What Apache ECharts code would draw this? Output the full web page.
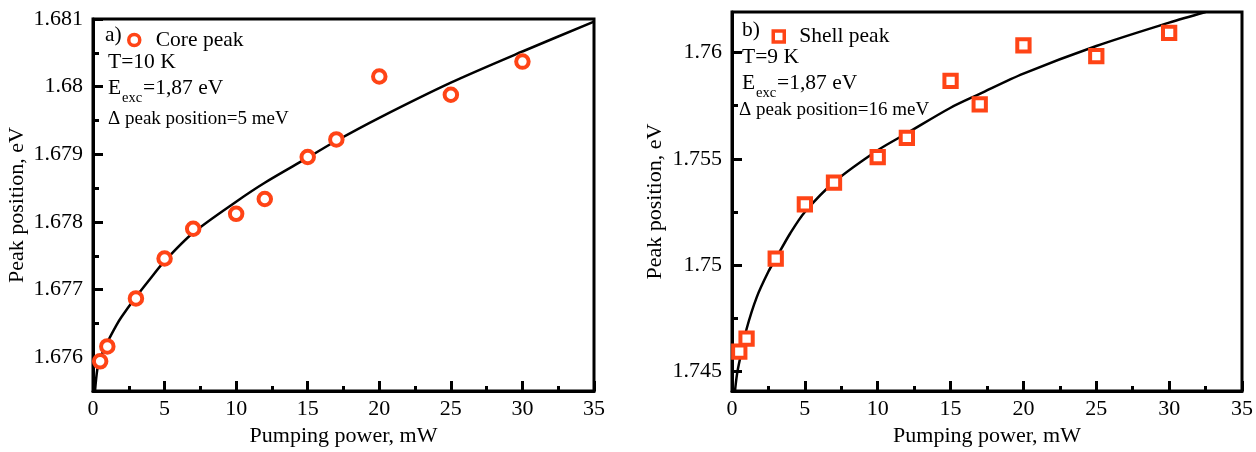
<!DOCTYPE html>
<html><head><meta charset="utf-8">
<script src="https://cdn.jsdelivr.net/npm/echarts@6/dist/echarts.min.js"></script>
<style>html,body{margin:0;padding:0;background:#fff}#c{width:1256px;height:452px}</style>
</head><body><div id="c"></div>
<script>
// ---- data ----
const coreX = [0.5, 1, 3, 5, 7, 10, 12, 15, 17, 20, 25, 30];
const coreY = [1.67594, 1.67616, 1.67687, 1.67746, 1.6779, 1.67812, 1.67834, 1.67896, 1.67922, 1.68015, 1.67988, 1.68037];
const coreFitX = [0.14, 0.3, 0.5, 1, 1.65, 2, 3, 4, 5, 7, 10, 12, 15, 17, 20, 25, 30, 35];
const coreFitY = [1.6755, 1.67582, 1.67598, 1.67622, 1.67648, 1.6766, 1.67689, 1.67716, 1.67742, 1.67784, 1.6783, 1.67858, 1.67895, 1.6792, 1.67954, 1.68006, 1.68052, 1.68096];

const shellX = [0.5, 1, 3, 5, 7, 10, 12, 15, 17, 20, 25, 30];
const shellY = [1.74594, 1.74655, 1.75031, 1.75286, 1.75388, 1.75508, 1.75598, 1.75866, 1.75756, 1.76033, 1.75983, 1.76092];
const shellFitX = [0.2, 0.35, 0.55, 1, 1.7, 2.5, 3, 4, 5, 7, 10, 12, 15, 17, 20, 25, 30, 32.5];
const shellFitY = [1.74406, 1.7449, 1.7456, 1.747, 1.7485, 1.7497, 1.7503, 1.7515, 1.7525, 1.7539, 1.7554, 1.7562, 1.7574, 1.75805, 1.759, 1.7603, 1.7614, 1.7619];

const coreYTicks = [1.676, 1.677, 1.678, 1.679, 1.68, 1.681];
const coreYMinor = [1.6765, 1.6775, 1.6785, 1.6795, 1.6805];
const shellYTicks = [1.745, 1.75, 1.755, 1.76];
const shellYMinor = [1.7475, 1.7525, 1.7575];

const FONT = '"Liberation Serif", "Times New Roman", serif';
const RED = '#ff4416';

function zip(xs, ys) { return xs.map((x, i) => [x, ys[i]]); }

function xAxisFor(g) {
  return {
    type: 'value', gridIndex: g, min: 0, max: 35, interval: 5,
    axisLine: { show: true, lineStyle: { color: '#000', width: 3 } },
    axisTick: { show: true, inside: true, length: 10, lineStyle: { color: '#000', width: 3 } },
    minorTick: { show: true, splitNumber: 2, length: 5, lineStyle: { color: '#000', width: 3 } },
    axisLabel: { color: '#000', fontSize: 22, fontFamily: FONT, margin: 7 },
    splitLine: { show: false },
    name: 'Pumping power, mW', nameLocation: 'middle', nameGap: 29,
    nameTextStyle: { color: '#000', fontSize: 22, fontFamily: FONT }
  };
}
function yMain(g, min, max, ticks, gap) {
  return {
    type: 'value', gridIndex: g, min: min, max: max, position: 'left',
    axisLine: { show: true, lineStyle: { color: '#000', width: 3 } },
    axisTick: { show: true, inside: true, length: 10, customValues: ticks, lineStyle: { color: '#000', width: 3 } },
    axisLabel: { color: '#000', fontSize: 22, fontFamily: FONT, margin: 10, customValues: ticks },
    splitLine: { show: false },
    name: 'Peak position, eV', nameLocation: 'middle', nameGap: gap, nameRotate: 90,
    nameTextStyle: { color: '#000', fontSize: 22, fontFamily: FONT }
  };
}
function yMinor(g, min, max, ticks) {
  return {
    type: 'value', gridIndex: g, min: min, max: max, position: 'left',
    axisLine: { show: false },
    axisTick: { show: true, inside: true, length: 6, customValues: ticks, lineStyle: { color: '#000', width: 3 } },
    axisLabel: { show: false },
    splitLine: { show: false }
  };
}
function txt(x, y, t, size) {
  return { type: 'text', x: x, y: y, silent: true,
    style: { text: t, font: size + 'px ' + FONT, fill: '#000', verticalAlign: 'middle' } };
}

const chart = echarts.init(document.getElementById('c'), null, { renderer: 'canvas' });
chart.setOption({
  backgroundColor: '#fff',
  animation: false,
  grid: [
    { left: 93, top: 19, right: 662, bottom: 59, show: true, borderColor: '#000', borderWidth: 3 },
    { left: 732, top: 12, right: 13, bottom: 59, show: true, borderColor: '#000', borderWidth: 3 }
  ],
  xAxis: [xAxisFor(0), xAxisFor(1)],
  yAxis: [
    yMain(0, 1.6755, 1.681, coreYTicks, 65),
    yMinor(0, 1.6755, 1.681, coreYMinor),
    yMain(1, 1.74408, 1.7619, shellYTicks, 66),
    yMinor(1, 1.74408, 1.7619, shellYMinor)
  ],
  legend: [
    { data: ['Core peak'], left: 127, top: 29, itemWidth: 11, itemHeight: 11, padding: 0,
      selectedMode: false,
      itemStyle: { color: '#fff', borderColor: RED, borderWidth: 3.5 },
      textStyle: { color: '#000', fontSize: 21.5, fontFamily: FONT, padding: [0, 0, 0, 11] } },
    { data: ['Shell peak'], left: 771.5, top: 25.5, itemWidth: 11, itemHeight: 11, padding: 0,
      selectedMode: false,
      itemStyle: { color: '#fff', borderColor: RED, borderWidth: 3.5 },
      textStyle: { color: '#000', fontSize: 21.5, fontFamily: FONT, padding: [0, 0, 0, 10] } }
  ],
  graphic: [
    txt(105, 35, 'a)', 21.5),
    txt(108, 62, 'T=10 K', 21.5),
    txt(108, 88, 'E', 21.5), txt(122, 98, 'exc', 14.5), txt(143, 88, '=1,87 eV', 21.5),
    txt(108, 119, 'Δ peak position=5 meV', 19),
    txt(742, 30, 'b)', 21.5),
    txt(742, 57, 'T=9 K', 21.5),
    txt(742, 83, 'E', 21.5), txt(756, 93, 'exc', 14.5), txt(777, 83, '=1,87 eV', 21.5),
    txt(739, 110, 'Δ peak position=16 meV', 19)
  ],
  series: [
    { name: 'Core fit', type: 'line', xAxisIndex: 0, yAxisIndex: 0, data: zip(coreFitX, coreFitY),
      smooth: 0.3, showSymbol: false, symbol: 'none', lineStyle: { color: '#000', width: 2.5 }, z: 2 },
    { name: 'Core peak', type: 'scatter', xAxisIndex: 0, yAxisIndex: 0, data: zip(coreX, coreY),
      symbol: 'circle', symbolSize: 12.5,
      itemStyle: { color: '#fff', borderColor: RED, borderWidth: 4, opacity: 1 }, z: 3 },
    { name: 'Shell fit', type: 'line', xAxisIndex: 1, yAxisIndex: 2, data: zip(shellFitX, shellFitY),
      smooth: 0.3, showSymbol: false, symbol: 'none', lineStyle: { color: '#000', width: 2.5 }, z: 2 },
    { name: 'Shell peak', type: 'scatter', xAxisIndex: 1, yAxisIndex: 2, data: zip(shellX, shellY),
      symbol: 'rect', symbolSize: 12.3,
      itemStyle: { color: '#fff', borderColor: RED, borderWidth: 4, opacity: 1 }, z: 3 }
  ]
});
</script>
</body></html>
